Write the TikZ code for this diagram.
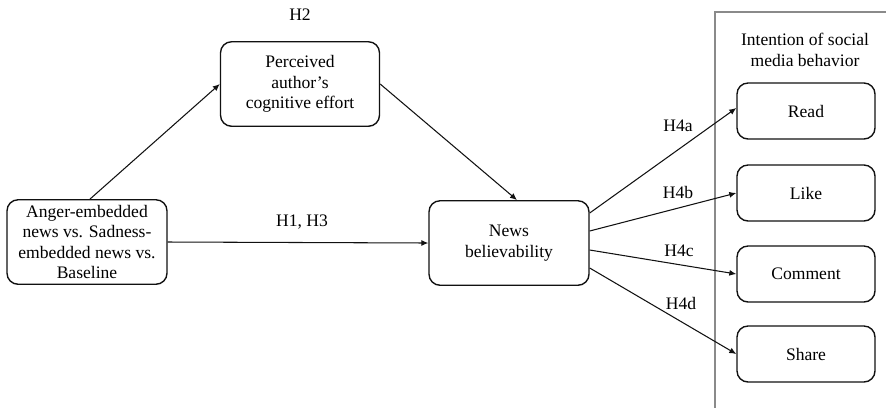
\documentclass[tikz,border=0pt]{standalone}
\usepackage{fontspec}
\setmainfont{Liberation Serif}
\usetikzlibrary{arrows.meta,positioning}
\usepackage{xcolor}
\definecolor{dark}{HTML}{111111}
\definecolor{framegray}{HTML}{8A8A8A}
\tikzset{
  box/.style={draw=dark, rounded corners=2.2mm, thick, align=center, fill=white, inner sep=1mm, font=\fontsize{10}{11.6}\selectfont},
  bigbox/.style={box, minimum width=3.2cm, minimum height=1.69cm},
  actbox/.style={box, minimum width=2.76cm, minimum height=1.12cm},
  hyp/.style={font=\fontsize{10}{11.6}\selectfont, inner sep=0pt},
  arrow/.style={-{Latex[length=1.4mm,width=1.2mm]}, semithick, draw=dark}
}
\begin{document}
\begin{tikzpicture}[x=0.02cm, y=-0.02cm]
  \useasboundingbox (0,0) rectangle (886,407);
  % panel on the right
  \draw[framegray, semithick] (887,12) -- (715,12) -- (715,410);
  \node[hyp, align=center] (panel) at (805,50) {Intention of social\\media behavior};
  % boxes
  \node[bigbox] (stimulus) at (87,242) {Anger-embedded\\news vs. Sadness-\\embedded news vs.\\Baseline};
  \node[bigbox, minimum width=3.18cm] (effort) at (300,84) {Perceived\\author's\\cognitive effort};
  \node[bigbox] (believe) at (509,243) {News\\believability};
  \node[actbox] (read) at (806,111) {Read};
  \node[actbox] (like) at (806,193) {Like};
  \node[actbox] (comment) at (806,274) {Comment};
  \node[actbox] (share) at (806,354) {Share};
  % hypotheses
  \node[hyp] (h2) at (300,15) {H2};
  \node[hyp] (h13) at (302,222) {H1, H3};
  \node[hyp] (h4a) at (678,126) {H4a};
  \node[hyp] (h4b) at (678,192) {H4b};
  \node[hyp] (h4c) at (679,251) {H4c};
  \node[hyp] (h4d) at (681,303) {H4d};
  % paths
  \draw[arrow] ([xshift=0.06cm]stimulus.north) -- (effort.west);
  \draw[arrow] (effort.east) -- ([xshift=0.16cm]believe.north);
  \draw[arrow] (stimulus.east) -- (believe.west);
  \draw[arrow] ([yshift=0.6cm]believe.east) -- ([yshift=0.06cm]read.west);
  \draw[arrow] ([yshift=0.24cm]believe.east) -- (like.west);
  \draw[arrow] ([yshift=-0.14cm]believe.east) -- (comment.west);
  \draw[arrow] ([yshift=-0.5cm]believe.east) -- (share.west);
\end{tikzpicture}
\end{document}
